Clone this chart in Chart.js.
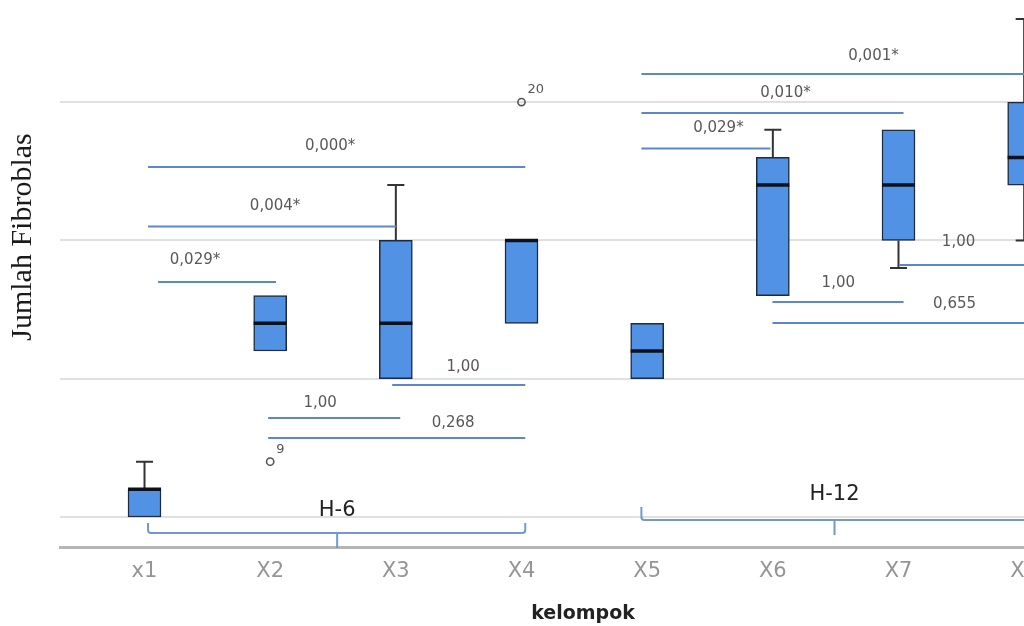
<!DOCTYPE html>
<html>
<head>
<meta charset="utf-8">
<script src="https://cdn.jsdelivr.net/npm/chart.js@4/dist/chart.umd.min.js"></script>
<style>
  html, body { margin: 0; padding: 0; background: #ffffff; overflow: hidden; width: 1024px; height: 626px; }
  #wrap { position: absolute; left: 0; top: 0; width: 1087px; height: 626px; }
  canvas { display: block; }
</style>
</head>
<body>
<div id="wrap"><canvas id="c" width="1087" height="626"></canvas></div>
<script>
// ---------- data ----------
const categories  = ['x1', 'X2', 'X3', 'X4', 'X5', 'X6', 'X7', 'X8'];
const whiskerLow  = [10, 22, 20, 24, 20, 26, 28, 30];
const q1          = [10, 22, 20, 24, 20, 26, 30, 34];
const median      = [12, 24, 24, 30, 22, 34, 34, 36];
const q3          = [12, 26, 30, 30, 24, 36, 38, 40];
const whiskerHigh = [14, 26, 34, 30, 24, 38, 38, 46];
const outlierCategory = ['X2', 'X4'];
const outlierValue    = [14, 40];
const outlierCase     = ['9', '20'];
const yTicks = [10, 20, 30, 40];
const pLabels = ['0,000*', '0,004*', '0,029*', '1,00', '1,00', '0,268',
                 '0,001*', '0,010*', '0,029*', '1,00', '1,00', '0,655'];
const groupLabels = ['H-6', 'H-12'];

// ---------- annotation layout (in axis units) ----------
const compLayout = {
  from:   [1.028, 1.028, 1.108, 2.971, 1.984, 1.984, 4.954, 4.954, 4.954, 7.009, 5.997, 5.997],
  to:     [4.030, 3.003, 2.047, 4.030, 3.035, 4.030, 8.4,   7.040, 5.981, 8.4,   7.040, 8.4],
  level:  [35.30, 31.00, 26.99, 19.54, 17.16, 15.71, 42.03, 39.21, 36.64, 28.22, 25.54, 24.02],
  textX:  [2.477, 2.039, 1.402, 3.536, 2.398, 3.456, 6.801, 6.101, 5.567, 7.478, 6.521, 7.446],
  textY:  [36.82, 32.48, 28.58, 20.84, 18.24, 16.80, 43.33, 40.65, 38.11, 29.88, 26.92, 25.40]
};
const bracketLayout = {
  from:   [1.028, 4.954],
  to:     [4.030, 8.4],
  level:  [8.84, 9.78],
  hook:   [9.57, 10.72],
  mid:    [2.533, 6.491],
  tickTo: [7.76, 8.70],
  textY:  [10.50, 11.60]
};

const lineBlue = '#5b88c6';

const extras = {
  id: 'boxExtras',
  afterDatasetsDraw(chart) {
    const { ctx, scales: { x, y } } = chart;
    const meta = chart.getDatasetMeta(0);
    ctx.save();
    ctx.lineCap = 'butt';
    categories.forEach((c, i) => {
      const el = meta.data[i];
      const cx = el.x, bw = el.width;
      const cap = 8.5;
      ctx.strokeStyle = '#333';
      ctx.lineWidth = 2;
      if (whiskerHigh[i] > q3[i]) {
        ctx.beginPath();
        ctx.moveTo(cx, y.getPixelForValue(q3[i]));
        ctx.lineTo(cx, y.getPixelForValue(whiskerHigh[i]));
        ctx.moveTo(cx - cap, y.getPixelForValue(whiskerHigh[i]));
        ctx.lineTo(cx + cap, y.getPixelForValue(whiskerHigh[i]));
        ctx.stroke();
      }
      if (whiskerLow[i] < q1[i]) {
        ctx.beginPath();
        ctx.moveTo(cx, y.getPixelForValue(q1[i]));
        ctx.lineTo(cx, y.getPixelForValue(whiskerLow[i]));
        ctx.moveTo(cx - cap, y.getPixelForValue(whiskerLow[i]));
        ctx.lineTo(cx + cap, y.getPixelForValue(whiskerLow[i]));
        ctx.stroke();
      }
      ctx.strokeStyle = '#0b121d';
      ctx.lineWidth = 3.5;
      ctx.beginPath();
      const my = y.getPixelForValue(median[i]);
      ctx.moveTo(cx - bw / 2, my);
      ctx.lineTo(cx + bw / 2, my);
      ctx.stroke();
    });
    // outliers
    outlierCategory.forEach((c, k) => {
      const px = x.getPixelForValue(categories.indexOf(c) + 1);
      const py = y.getPixelForValue(outlierValue[k]);
      ctx.strokeStyle = '#555';
      ctx.lineWidth = 1.6;
      ctx.beginPath();
      ctx.arc(px, py, 3.6, 0, Math.PI * 2);
      ctx.stroke();
      ctx.fillStyle = '#555';
      ctx.font = '13px "DejaVu Sans"';
      ctx.textAlign = 'left';
      ctx.textBaseline = 'middle';
      ctx.fillText(outlierCase[k], px + 6, py - 12);
    });
    ctx.restore();
  },
  afterDraw(chart) {
    const { ctx, scales: { x, y } } = chart;
    ctx.save();
    // comparison lines
    pLabels.forEach((lab, i) => {
      const ly = y.getPixelForValue(compLayout.level[i]);
      ctx.strokeStyle = lineBlue;
      ctx.lineWidth = 2;
      ctx.beginPath();
      ctx.moveTo(x.getPixelForValue(compLayout.from[i]), ly);
      ctx.lineTo(x.getPixelForValue(compLayout.to[i]), ly);
      ctx.stroke();
      ctx.fillStyle = '#585858';
      ctx.font = '15px "DejaVu Sans"';
      ctx.textAlign = 'center';
      ctx.textBaseline = 'middle';
      ctx.fillText(lab, x.getPixelForValue(compLayout.textX[i]), y.getPixelForValue(compLayout.textY[i]));
    });
    // group brackets
    groupLabels.forEach((g, i) => {
      const x0 = x.getPixelForValue(bracketLayout.from[i]);
      const x1 = x.getPixelForValue(bracketLayout.to[i]);
      const ly = y.getPixelForValue(bracketLayout.level[i]);
      const hy = y.getPixelForValue(bracketLayout.hook[i]);
      const mx = x.getPixelForValue(bracketLayout.mid[i]);
      const ty = y.getPixelForValue(bracketLayout.tickTo[i]);
      ctx.strokeStyle = '#7199d0';
      ctx.lineWidth = 2;
      ctx.beginPath();
      ctx.moveTo(x0, hy);
      ctx.lineTo(x0, ly - 3);
      ctx.quadraticCurveTo(x0, ly, x0 + 3, ly);
      ctx.lineTo(x1 - 3, ly);
      ctx.quadraticCurveTo(x1, ly, x1, ly - 3);
      ctx.lineTo(x1, hy);
      ctx.moveTo(mx, ly);
      ctx.lineTo(mx, ty);
      ctx.stroke();
      ctx.fillStyle = '#222';
      ctx.font = '21px "DejaVu Sans"';
      ctx.textAlign = 'center';
      ctx.textBaseline = 'middle';
      ctx.fillText(g, mx, y.getPixelForValue(bracketLayout.textY[i]));
    });
    // axis titles
    ctx.fillStyle = '#222';
    ctx.font = 'bold 19px "DejaVu Sans"';
    ctx.textAlign = 'center';
    ctx.textBaseline = 'middle';
    ctx.fillText('kelompok', 583, 614);
    ctx.translate(23, 237);
    ctx.rotate(-Math.PI / 2);
    ctx.font = '30px "Liberation Serif"';
    ctx.fillStyle = '#1a1a1a';
    ctx.fillText('Jumlah Fibroblas', 0, 0);
    ctx.restore();
  }
};

new Chart(document.getElementById('c'), {
  type: 'bar',
  data: {
    datasets: [{
      label: 'Jumlah Fibroblas',
      data: categories.map((c, i) => ({ x: i + 1, y: [q1[i], q3[i]] })),
      backgroundColor: '#5192e5',
      borderColor: '#1d2b40',
      borderWidth: 1.5,
      borderSkipped: false,
      barThickness: 33
    }]
  },
  options: {
    responsive: false,
    animation: false,
    layout: { padding: 0 },
    plugins: { legend: { display: false }, tooltip: { enabled: false } },
    scales: {
      x: {
        type: 'linear',
        offset: false,
        min: 0.3275,
        max: 8.5,
        afterBuildTicks: (s) => { s.ticks = categories.map((c, i) => ({ value: i + 1 })); },
        afterFit: (s) => { s.height = 79; s.paddingLeft = 0; s.paddingRight = 0; },
        grid: { display: false, drawTicks: false },
        border: { display: true, color: '#b5b5b5', width: 3 },
        ticks: {
          padding: 12,
          autoSkip: false,
          maxRotation: 0,
          color: '#959595',
          font: { family: 'DejaVu Sans', size: 21 },
          callback: (v) => categories[Math.round(v) - 1]
        }
      },
      y: {
        min: 7.83,
        max: 47.38,
        afterBuildTicks: (s) => { s.ticks = yTicks.map(v => ({ value: v })); },
        afterFit: (s) => { s.width = 60; },
        grid: { color: '#e0e0e0', lineWidth: 2, drawTicks: false },
        border: { display: false },
        ticks: { display: false }
      }
    }
  },
  plugins: [extras]
});
</script>
</body>
</html>
